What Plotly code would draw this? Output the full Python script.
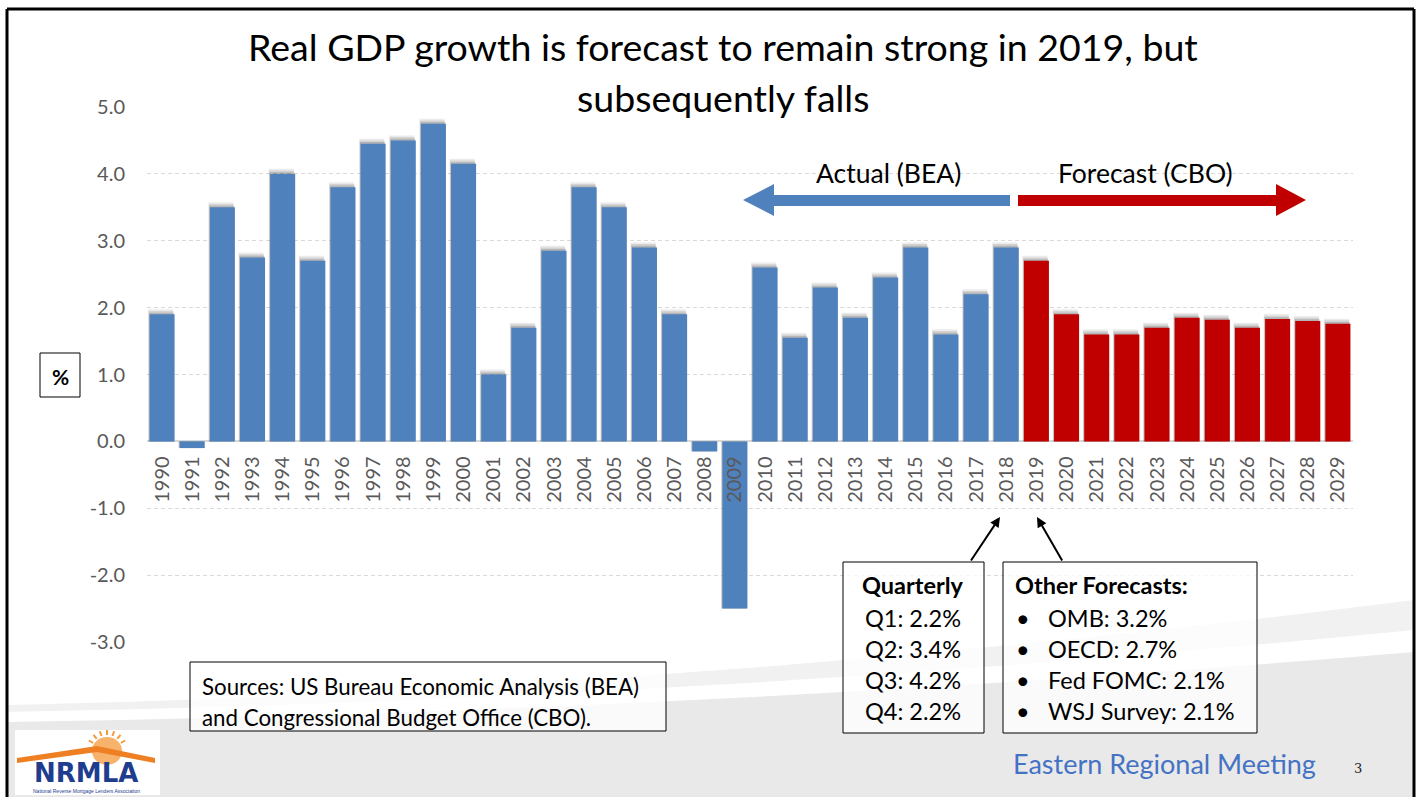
import math
import plotly.graph_objects as go

# ---------------- data ----------------
actual_years = [str(y) for y in range(1990, 2019)]
actual_vals = [1.9, -0.1, 3.5, 2.75, 4.0, 2.7, 3.8, 4.45, 4.5, 4.75, 4.15, 1.0, 1.7, 2.85,
               3.8, 3.5, 2.9, 1.9, -0.15, -2.5, 2.6, 1.55, 2.3, 1.85, 2.45, 2.9, 1.6, 2.2, 2.9]
forecast_years = [str(y) for y in range(2019, 2030)]
forecast_vals = [2.7, 1.9, 1.6, 1.6, 1.7, 1.85, 1.82, 1.7, 1.83, 1.8, 1.76]
y_ticks = [-3, -2, -1, 0, 1, 2, 3, 4, 5]
y_tick_labels = ["-3.0", "-2.0", "-1.0", "0.0", "1.0", "2.0", "3.0", "4.0", "5.0"]
quarterly = ["Q1: 2.2%", "Q2: 3.4%", "Q3: 4.2%", "Q4: 2.2%"]
other_fc = ["OMB: 3.2%", "OECD: 2.7%", "Fed FOMC: 2.1%", "WSJ Survey: 2.1%"]

W, H = 1423, 797
L, R, T, B = 147, 1353, 107, 642
FONT = "Lato"
BLUE = "#4f81bd"
RED = "#c00000"


def px(x):
    return (x - L) / (R - L)


def py(y):
    return (B - y) / (B - T)


fig = go.Figure()

# soft shadows
all_years = actual_years + forecast_years
all_vals = actual_vals + forecast_vals
for dy, dx, op in [(0.075, -0.05, 0.08), (0.05, -0.035, 0.10), (0.025, -0.02, 0.14)]:
    shadow_vals = [v + dy if v > 0 else v for v in all_vals]
    fig.add_trace(go.Bar(x=all_years, y=shadow_vals, width=0.83, offset=-0.415 + dx,
                         marker=dict(color=f"rgba(0,0,0,{op})", line_width=0),
                         hoverinfo="skip", showlegend=False))
fig.add_trace(go.Bar(x=actual_years, y=actual_vals, width=0.83, offset=-0.415,
                     marker=dict(color=BLUE, line_width=0), name="Actual (BEA)", showlegend=False))
fig.add_trace(go.Bar(x=forecast_years, y=forecast_vals, width=0.83, offset=-0.415,
                     marker=dict(color=RED, line_width=0), name="Forecast (CBO)", showlegend=False))

shapes = []
ann = []


def text(x, y, t, size=23.5, color="#000", family=FONT, xanchor="center"):
    ann.append(dict(x=px(x), y=py(y), xref="paper", yref="paper", text=t, showarrow=False,
                    xanchor=xanchor, yanchor="middle",
                    font=dict(family=family, size=size, color=color)))


# background swoosh
def curve_path(x0, y0, xm, ym, x1, y1, bottom=797):
    return (f"M {px(x0)},{py(y0)} Q {px(xm)},{py(ym)} {px(x1)},{py(y1)} "
            f"L {px(x1)},{py(bottom)} L {px(x0)},{py(bottom)} Z")

shapes.append(dict(type="path", xref="paper", yref="paper", layer="below",
                   path=curve_path(7, 705, 700, 690, 1414, 600), fillcolor="#f1f1f1", line_width=0))
shapes.append(dict(type="path", xref="paper", yref="paper", layer="below",
                   path=curve_path(7, 712, 700, 700, 1414, 630), fillcolor="#ffffff", line_width=0))
shapes.append(dict(type="path", xref="paper", yref="paper", layer="below",
                   path=curve_path(7, 722, 700, 712, 1414, 652), fillcolor="#e9e9e9", line_width=0))

# slide frame
for (x0, y0, x1, y1) in [(7, 9, 7, 797), (1414, 9, 1414, 797), (7, 9, 1414, 9)]:
    shapes.append(dict(type="line", xref="paper", yref="paper", x0=px(x0), y0=py(y0),
                       x1=px(x1), y1=py(y1), line=dict(color="#000000", width=3)))

# arrows (blue / red)
def pts(lst):
    return "M " + " L ".join(f"{px(a)},{py(b)}" for a, b in lst) + " Z"

shapes.append(dict(type="path", xref="paper", yref="paper",
                   path=pts([(743, 200), (774, 184), (774, 195), (1010, 195), (1010, 206),
                             (774, 206), (774, 216)]),
                   fillcolor=BLUE, line_width=0))
shapes.append(dict(type="path", xref="paper", yref="paper",
                   path=pts([(1306, 200), (1276, 184), (1276, 195), (1018, 195), (1018, 206),
                             (1276, 206), (1276, 216)]),
                   fillcolor=RED, line_width=0))
text(888, 173, "Actual (BEA)", size=26.5)
text(1145, 173, "Forecast (CBO)", size=26.5)

# title
text(723, 47, "Real GDP growth is forecast to remain strong in 2019, but", size=37.5)
text(723, 97, "subsequently falls", size=37.5)

# boxes
def rect(x0, y0, x1, y1, fill="rgba(255,255,255,0.75)"):
    shapes.append(dict(type="rect", xref="paper", yref="paper", x0=px(x0), y0=py(y0),
                       x1=px(x1), y1=py(y1), line=dict(color="#000", width=1), fillcolor=fill))

rect(40, 353, 80, 397, fill="#ffffff")
text(60, 376, "<b>%</b>", size=21)

rect(843, 562, 984, 733)
text(913, 585, "<b>Quarterly</b>")
for i, q in enumerate(quarterly):
    text(913, 618 + 31 * i, q)

rect(1003, 562, 1257, 733)
text(1013, 585, "<b>Other Forecasts:</b>", xanchor="left")
for i, q in enumerate(other_fc):
    text(1014, 618 + 31 * i, "•", xanchor="left")
    text(1046, 618 + 31 * i, q, xanchor="left")

rect(190, 662, 666, 731)
text(200, 686, "Sources: US Bureau Economic Analysis (BEA)", size=22.3, xanchor="left")
text(200, 717, "and Congressional Budget Office (CBO).", size=22.3, xanchor="left")

# pointer arrows
for tipx, axp in [(1000, -30), (1037, 26)]:
    ann.append(dict(x=px(tipx), y=py(517), xref="paper", yref="paper", text="", showarrow=True,
                    ax=axp, ay=45, arrowhead=2, arrowsize=1, arrowwidth=2, arrowcolor="#000",
                    standoff=0, xanchor="center", yanchor="middle"))

# footer
text(1164, 763, "Eastern Regional Meeting", size=27, color="#4472c4")
text(1358, 768, "3", size=13, color="#222", family="DejaVu Serif")

# logo
shapes.append(dict(type="rect", xref="paper", yref="paper", x0=px(15), y0=py(730), x1=px(160), y1=py(795),
                   fillcolor="#ffffff", line_width=0))
shapes.append(dict(type="circle", xref="paper", yref="paper", x0=px(92), y0=py(737), x1=px(122), y1=py(765),
                   fillcolor="#f7b26b", line_width=0))
for ang in range(-60, 61, 20):
    cx, cy = 107, 751
    r0, r1 = 16, 21
    a = math.radians(ang)
    shapes.append(dict(type="line", xref="paper", yref="paper",
                       x0=px(cx + r0 * math.sin(a)), y0=py(cy - r0 * math.cos(a)),
                       x1=px(cx + r1 * math.sin(a)), y1=py(cy - r1 * math.cos(a)),
                       line=dict(color="#f29a3c", width=2)))
shapes.append(dict(type="path", xref="paper", yref="paper",
                   path=pts([(17, 758), (97, 746), (155, 758), (155, 763), (97, 752), (17, 763)]),
                   fillcolor="#ee7f22", line_width=0))
text(86, 773, "<b>NRMLA</b>", size=26, color="#1f3d8f", family="DejaVu Sans")
text(86, 791, "National Reverse Mortgage Lenders Association", size=5, color="#1f3d8f",
     family="Liberation Sans")

fig.update_layout(
    width=W, height=H, margin=dict(l=L, r=W - R, t=T, b=H - B),
    paper_bgcolor="#ffffff", plot_bgcolor="rgba(0,0,0,0)",
    barmode="overlay", showlegend=False, shapes=shapes, annotations=ann,
    font=dict(family=FONT),
)
fig.update_xaxes(type="category", categoryorder="array", categoryarray=all_years,
                 anchor="free", position=3 / 8, tickangle=-90, ticks="", showline=False,
                 showgrid=False, tickfont=dict(family=FONT, size=20, color="#595959"),
                 ticklabelstandoff=10)
fig.update_yaxes(range=[-3, 5], tickvals=y_ticks, ticktext=y_tick_labels, showgrid=True,
                 gridcolor="#d9d9d9", griddash="4px,3px", gridwidth=1,
                 zeroline=True, zerolinecolor="#d9d9d9", zerolinewidth=2,
                 tickfont=dict(family=FONT, size=20, color="#595959"), ticklabelstandoff=21,
                 showline=False)

fig.write_html("out.html")
